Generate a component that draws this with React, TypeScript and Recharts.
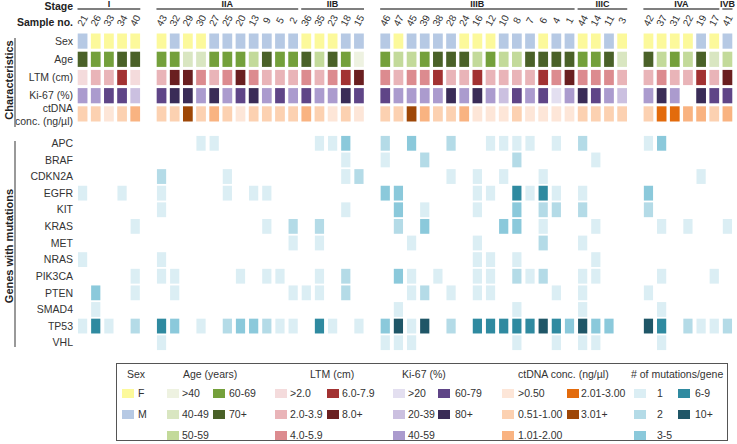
import React from 'react';
import { ScatterChart, Scatter, XAxis, YAxis } from 'recharts';

// ---- data ----
const stageNames = ['I', 'IIA', 'IIB', 'IIIB', 'IIIC', 'IVA', 'IVB'];
const stageSamples = [
  [21, 26, 33, 34, 40],
  [43, 32, 29, 30, 27, 25, 20, 13, 9, 5, 2],
  [36, 35, 23, 18, 15],
  [46, 47, 45, 39, 38, 28, 24, 16, 12, 10, 8, 7, 6, 4, 1],
  [44, 14, 11, 3],
  [42, 37, 31, 22, 19, 17],
  [41],
];
// an empty column follows these stages
const stageGapAfter = [true, false, true, false, true, false, false];

const charRows = ['Sex', 'Age', 'LTM (cm)', 'Ki-67 (%)', 'ctDNA\nconc. (ng/µl)'];

const sexCats = ['F', 'M'];
const ageCats = ['>40', '40-49', '50-59', '60-69', '70+'];
const ltmCats = ['>2.0', '2.0-3.9', '4.0-5.9', '6.0-7.9', '8.0+'];
const kiCats = ['>20', '20-39', '40-59', '60-79', '80+'];
const ctCats = ['>0.50', '0.51-1.00', '1.01-2.00', '2.01-3.00', '3.01+'];
const mutCats = ['1', '2', '3-5', '6-9', '10+'];

// values in sample order (stage by stage)
const sexValues = [
  'M', 'F', 'F', 'F', 'F',
  'F', 'M', 'F', 'F', 'M', 'M', 'M', 'M', 'M', 'M', 'M',
  'F', 'F', 'F', 'M', 'M',
  'M', 'F', 'M', 'M', 'M', 'M', 'F', 'F', 'F', 'M', 'M', 'M', 'F', 'M', 'M',
  'F', 'F', 'M', 'F',
  'F', 'F', 'F', 'F', 'M', 'F',
  'M',
];
const ageValues = [
  '70+', '60-69', '60-69', '70+', '70+',
  '60-69', '60-69', '40-49', '40-49', '60-69', '60-69', '60-69', '50-59', '70+', '60-69', '60-69',
  '70+', '50-59', '70+', '60-69', '>40',
  '60-69', '50-59', '50-59', '60-69', '70+', '70+', '70+', '50-59', '60-69', '50-59', '50-59', '70+', '70+', '70+', '70+',
  '60-69', '60-69', '70+', '40-49',
  '70+', '50-59', '60-69', '50-59', '70+', '40-49',
  '50-59',
];
const ltmValues = [
  '>2.0', '2.0-3.9', '2.0-3.9', '6.0-7.9', '>2.0',
  '2.0-3.9', '8.0+', '8.0+', '4.0-5.9', '2.0-3.9', '4.0-5.9', '8.0+', '4.0-5.9', '2.0-3.9', '2.0-3.9', '2.0-3.9',
  '4.0-5.9', '2.0-3.9', '4.0-5.9', '6.0-7.9', '8.0+',
  '4.0-5.9', '2.0-3.9', '4.0-5.9', '4.0-5.9', '6.0-7.9', '2.0-3.9', '2.0-3.9', '6.0-7.9', '2.0-3.9', '2.0-3.9', '2.0-3.9', '2.0-3.9', '6.0-7.9', '4.0-5.9', '8.0+',
  '4.0-5.9', '4.0-5.9', '4.0-5.9', '2.0-3.9',
  '2.0-3.9', '4.0-5.9', '2.0-3.9', '2.0-3.9', '6.0-7.9', '2.0-3.9',
  '8.0+',
];
const kiValues = [
  '40-59', '40-59', '60-79', '60-79', '20-39',
  '60-79', '80+', '80+', '40-59', '80+', '40-59', '60-79', '80+', '40-59', '60-79', '40-59',
  '60-79', '40-59', '40-59', '80+', '60-79',
  '60-79', '40-59', '40-59', '40-59', '40-59', '80+', '40-59', '80+', '40-59', '20-39', '60-79', '40-59', '60-79', '>20', '40-59',
  '80+', '60-79', '40-59', '20-39',
  '40-59', '80+', '40-59', null, '80+', '60-79',
  '60-79',
];
const ctValues = [
  '0.51-1.00', '0.51-1.00', '>0.50', '0.51-1.00', '1.01-2.00',
  '0.51-1.00', '0.51-1.00', '3.01+', '0.51-1.00', '1.01-2.00', '0.51-1.00', '>0.50', '0.51-1.00', '0.51-1.00', '0.51-1.00', '0.51-1.00',
  '1.01-2.00', '0.51-1.00', '>0.50', '0.51-1.00', '>0.50',
  '0.51-1.00', '0.51-1.00', '3.01+', '1.01-2.00', '0.51-1.00', '0.51-1.00', '1.01-2.00', '>0.50', '>0.50', '>0.50', '0.51-1.00', '>0.50', '>0.50', '>0.50', '>0.50',
  '0.51-1.00', '0.51-1.00', '0.51-1.00', '0.51-1.00',
  '0.51-1.00', '2.01-3.00', '2.01-3.00', '1.01-2.00', '1.01-2.00', '0.51-1.00',
  '1.01-2.00',
];

const genes = ['APC', 'BRAF', 'CDKN2A', 'EGFR', 'KIT', 'KRAS', 'MET', 'NRAS', 'PIK3CA', 'PTEN', 'SMAD4', 'TP53', 'VHL'];
// [sample no., mutations per gene]
const geneMutations: [number, string][][] = [
  [[30, '1'], [27, '1'], [35, '1'], [23, '1'], [18, '3-5'], [46, '2'], [45, '3-5'], [28, '2'], [12, '1'], [10, '1'], [8, '1'], [7, '1'], [4, '1'], [44, '2'], [42, '1'], [37, '3-5']],
  [[18, '1'], [46, '1'], [39, '2'], [8, '2'], [14, '1']],
  [[43, '2'], [25, '1'], [18, '1'], [15, '2'], [28, '1'], [16, '1'], [10, '1'], [6, '1'], [19, '1']],
  [[21, '1'], [34, '1'], [43, '1'], [25, '1'], [13, '1'], [9, '1'], [46, '3-5'], [47, '3-5'], [16, '1'], [12, '1'], [8, '6-9'], [7, '1'], [6, '6-9'], [4, '1'], [44, '1'], [42, '3-5']],
  [[43, '1'], [18, '1'], [47, '3-5'], [39, '1'], [16, '1'], [8, '3-5'], [6, '2'], [4, '2'], [44, '2'], [42, '2']],
  [[40, '1'], [9, '1'], [2, '2'], [35, '2'], [47, '2'], [39, '3-5'], [10, '3-5'], [8, '3-5'], [6, '1'], [14, '1'], [37, '1'], [22, '1'], [41, '1']],
  [[2, '1'], [35, '1'], [45, '1'], [16, '1'], [6, '2'], [44, '1']],
  [[21, '1'], [43, '1'], [16, '1'], [12, '1'], [8, '1'], [14, '1']],
  [[40, '1'], [43, '1'], [32, '1'], [20, '1'], [9, '1'], [5, '1'], [35, '1'], [18, '2'], [47, '3-5'], [45, '1'], [38, '1'], [16, '1'], [12, '1'], [8, '2'], [7, '1'], [6, '2'], [44, '1'], [14, '1'], [37, '1'], [17, '1']],
  [[26, '3-5'], [40, '1'], [32, '1'], [2, '1'], [36, '1'], [35, '1'], [18, '2'], [45, '1'], [39, '2'], [28, '1'], [16, '1'], [12, '1'], [4, '1'], [44, '1'], [42, '1']],
  [[26, '1'], [47, '1'], [8, '1'], [44, '1'], [37, '1']],
  [[21, '1'], [26, '6-9'], [33, '1'], [40, '2'], [43, '6-9'], [32, '3-5'], [30, '1'], [25, '2'], [20, '3-5'], [13, '3-5'], [9, '2'], [5, '1'], [2, '1'], [35, '6-9'], [23, '1'], [15, '1'], [46, '3-5'], [47, '10+'], [45, '1'], [39, '10+'], [28, '2'], [16, '6-9'], [12, '6-9'], [10, '6-9'], [8, '6-9'], [7, '6-9'], [6, '10+'], [4, '6-9'], [1, '3-5'], [44, '10+'], [14, '3-5'], [11, '3-5'], [42, '10+'], [37, '6-9'], [22, '2'], [19, '1'], [17, '1'], [41, '2']],
  [[43, '1'], [46, '1'], [47, '1'], [45, '1'], [8, '1'], [4, '1'], [44, '1'], [14, '1'], [37, '1']],
];

// ---- colours ----
const sexColors = ['#fcf99b', '#b6c9e4'];
const ageColors = ['#eef2e1', '#d9e6c1', '#c3da9a', '#74a03b', '#4a6128'];
const ltmColors = ['#f4dbdc', '#e9b4b8', '#dc8b8f', '#a23232', '#6a1f20'];
const kiColors = ['#e3dff0', '#cbc0e0', '#ab9bce', '#5f4587', '#3a2c57'];
const ctColors = ['#fde6d8', '#fcd1b1', '#f9b381', '#e36b0c', '#9e4707'];
const mutColors = ['#dbeef4', '#b4dbe7', '#8bc9db', '#2f8aa0', '#1f5667'];

const charCats = [sexCats, ageCats, ltmCats, kiCats, ctCats];
const charColors = [sexColors, ageColors, ltmColors, kiColors, ctColors];
const charValues = [sexValues, ageValues, ltmValues, kiValues, ctValues];

// ---- layout ----
const FONT = '"Liberation Sans", Arial, Helvetica, sans-serif';
const W = 737;
const AXIS_W = 76;
const RIGHT = 3;
const NSLOTS = 50;
const SLOT = (W - AXIS_W - RIGHT) / NSLOTS;

const sampleSlot: Record<number, number> = {};
const stageAtSlot: Record<number, { name: string; span: number }> = {};
{
  let s = 0;
  stageSamples.forEach((list, gi) => {
    stageAtSlot[s] = { name: stageNames[gi], span: list.length };
    list.forEach((n) => {
      sampleSlot[n] = s;
      s += 1;
    });
    if (stageGapAfter[gi]) s += 1;
  });
}
const allSamples = stageSamples.flat();
const slotLabel: Record<number, string> = {};
allSamples.forEach((n) => (slotLabel[sampleSlot[n]] = String(n)));

const charPoints = charRows.flatMap((_, r) =>
  allSamples
    .map((n, i) => ({ x: sampleSlot[n], y: r, row: r, value: charValues[r][i] }))
    .filter((p) => p.value !== null)
);
const genePoints = genes.flatMap((_, g) =>
  geneMutations[g].map(([n, level]) => ({ x: sampleSlot[n], y: g, value: level }))
);

const CharCell = (p: any) => {
  const w = SLOT * 0.74;
  const h = 15.2;
  const cats = charCats[p.payload.row];
  const fill = charColors[p.payload.row][cats.indexOf(p.payload.value)];
  return <rect x={p.cx - w / 2} y={p.cy - h / 2} width={w} height={h} fill={fill} />;
};

const GeneCell = (p: any) => {
  const w = SLOT * 0.7;
  const h = 14.8;
  const fill = mutColors[mutCats.indexOf(p.payload.value)];
  return <rect x={p.cx - w / 2} y={p.cy - h / 2} width={w} height={h} fill={fill} />;
};

const RowTick = ({ x, y, payload, labels }: any) => {
  const lines = String(labels[payload.value]).split('\n');
  const off = lines.length > 1 ? -6 : 0;
  return (
    <text x={x} y={y + off} textAnchor="end" fontSize={10.5} fill="#333" fontFamily={FONT}>
      {lines.map((l, i) => (
        <tspan key={i} x={x} dy={i === 0 ? '0.35em' : 13}>
          {l}
        </tspan>
      ))}
    </text>
  );
};

// sample number, plus the stage bracket above the first sample of each stage
const SampleTick = ({ x, y, payload }: any) => {
  const cy = y - 9.5;
  const st = stageAtSlot[payload.value];
  let stage = null;
  if (st) {
    const x0 = x - SLOT / 2 + 1.5;
    const x1 = x - SLOT / 2 + st.span * SLOT - 1.5;
    stage = (
      <g>
        <line x1={x0} x2={x1} y1={y - 21} y2={y - 21} stroke="#555" strokeWidth={1.4} />
        <text x={(x0 + x1) / 2} y={y - 23} textAnchor="middle" fontSize={9} fontWeight="bold" fill="#222" fontFamily={FONT}>
          {st.name}
        </text>
      </g>
    );
  }
  return (
    <g>
      {stage}
      <text
        x={x}
        y={cy}
        dy="0.35em"
        textAnchor="middle"
        fontSize={10}
        fill="#333"
        fontFamily={FONT}
        transform={`rotate(-62 ${x} ${cy})`}
      >
        {slotLabel[payload.value]}
      </text>
    </g>
  );
};

const legendGroups = [
  { title: 'Sex', cats: sexCats, colors: sexColors },
  { title: 'Age (years)', cats: ageCats, colors: ageColors },
  { title: 'LTM (cm)', cats: ltmCats, colors: ltmColors },
  { title: 'Ki-67 (%)', cats: kiCats, colors: kiColors },
  { title: 'ctDNA conc. (ng/µl)', cats: ctCats, colors: ctColors },
  { title: '# of mutations/gene', cats: mutCats, colors: mutColors },
];
const LX = 116; // legend box left
// title x, then [swatch x, text x] per column (relative to the box)
const legendPos = [
  { title: 10, cols: [[5, 21]] },
  { title: 66, cols: [[50, 65], [96, 112]] },
  { title: 193, cols: [[158, 173], [210, 225]] },
  { title: 285, cols: [[276, 291], [321, 338]] },
  { title: 401, cols: [[385, 401], [450, 464]] },
  { title: 514, cols: [[517, 540], [561, 578]] },
];
const legendRowsY = [29, 50, 71];

const Legend = () => (
  <div
    style={{
      position: 'absolute',
      left: LX,
      top: 363,
      width: 612,
      height: 78,
      border: '1px solid #555',
      boxSizing: 'border-box',
    }}
  >
    {legendGroups.map((g, gi) => {
      const pos = legendPos[gi];
      const items = g.cats.map((c, i) => {
        const col = gi === 0 ? 0 : i < 3 ? 0 : 1;
        const row = gi === 0 ? i : i < 3 ? i : i - 3;
        const [sx, tx] = pos.cols[col];
        const y = legendRowsY[row];
        return (
          <React.Fragment key={c}>
            <div
              style={{
                position: 'absolute',
                left: sx,
                top: y - 4.5,
                width: 12,
                height: 9,
                background: g.colors[i],
              }}
            />
            <div style={{ position: 'absolute', left: tx, top: y - 7, fontSize: 10.5, lineHeight: '14px', color: '#333', whiteSpace: 'nowrap' }}>
              {c}
            </div>
          </React.Fragment>
        );
      });
      return (
        <React.Fragment key={g.title}>
          <div style={{ position: 'absolute', left: pos.title, top: 3, fontSize: 10.5, lineHeight: '14px', color: '#333', whiteSpace: 'nowrap' }}>
            {g.title}
          </div>
          {items}
        </React.Fragment>
      );
    })}
  </div>
);

export default function App() {
  return (
    <div style={{ position: 'absolute', left: 0, top: 0, width: W, height: 444, background: '#fff', fontFamily: FONT }}>
      <div style={{ position: 'absolute', left: 0, top: 0 }}>
        <ScatterChart width={W} height={130} margin={{ top: 0, right: RIGHT, bottom: 7, left: 0 }} style={{ overflow: 'visible' }}>
          <XAxis
            orientation="top"
            type="number"
            dataKey="x"
            domain={[-0.5, NSLOTS - 0.5]}
            ticks={allSamples.map((n) => sampleSlot[n])}
            interval={0}
            height={32}
            tickLine={false}
            axisLine={false}
            tickSize={0}
            tick={SampleTick}
          />
          <YAxis
            type="number"
            dataKey="y"
            domain={[-0.5, charRows.length - 0.5]}
            ticks={charRows.map((_, i) => i)}
            interval={0}
            reversed
            width={AXIS_W}
            tickLine={false}
            axisLine={false}
            tickSize={0}
            tickMargin={3}
            tick={(p: any) => <RowTick {...p} labels={charRows} />}
          />
          <Scatter data={charPoints} shape={CharCell} isAnimationActive={false} />
        </ScatterChart>
      </div>
      <div style={{ position: 'absolute', left: 0, top: 135 }}>
        <ScatterChart width={W} height={216} margin={{ top: 0, right: RIGHT, bottom: 0, left: 0 }}>
          <XAxis type="number" dataKey="x" domain={[-0.5, NSLOTS - 0.5]} hide />
          <YAxis
            type="number"
            dataKey="y"
            domain={[-0.5, genes.length - 0.5]}
            ticks={genes.map((_, i) => i)}
            interval={0}
            reversed
            width={AXIS_W}
            tickLine={false}
            axisLine={false}
            tickSize={0}
            tickMargin={3}
            tick={(p: any) => <RowTick {...p} labels={genes} />}
          />
          <Scatter data={genePoints} shape={GeneCell} isAnimationActive={false} />
        </ScatterChart>
      </div>
      <svg width={W} height={444} style={{ position: 'absolute', left: 0, top: 0, pointerEvents: 'none' }}>
        <g fontFamily={FONT} fontWeight="bold" fill="#222">
          <text x={73} y={9.5} textAnchor="end" fontSize={10.5}>Stage</text>
          <text x={73} y={25.5} textAnchor="end" fontSize={10.5}>Sample no.</text>
          <text transform="translate(8.5 80) rotate(-90)" textAnchor="middle" dominantBaseline="central" fontSize={11}>
            Characteristics
          </text>
          <text transform="translate(8.5 246) rotate(-90)" textAnchor="middle" dominantBaseline="central" fontSize={11}>
            Genes with mutations
          </text>
        </g>
        <line x1={15} x2={15} y1={38} y2={127} stroke="#777" strokeWidth={1.5} />
        <line x1={15} x2={15} y1={141} y2={347} stroke="#777" strokeWidth={1.5} />
      </svg>
      <Legend />
    </div>
  );
}
